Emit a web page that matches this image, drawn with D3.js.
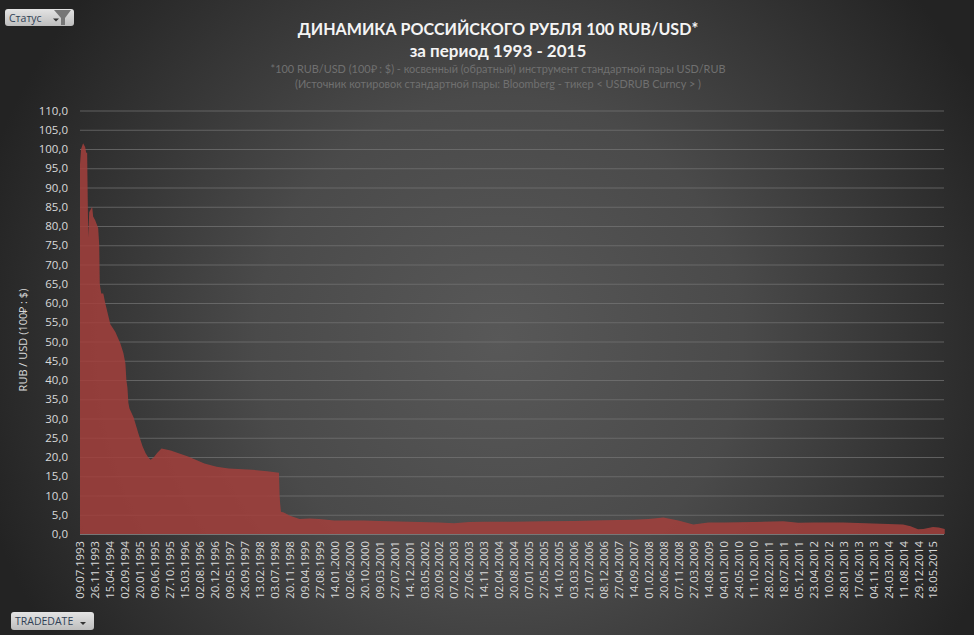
<!DOCTYPE html>
<html><head><meta charset="utf-8">
<script src="https://cdn.jsdelivr.net/npm/d3@7/dist/d3.min.js"></script>
<style>html,body{margin:0;padding:0;background:#222}svg{display:block}</style>
</head><body><svg id="c" width="974" height="635"></svg>
<script>
const tradeDates = ["09.07.1993","19.07.1993","07.08.1993","26.08.1993","05.09.1993","14.09.1993","18.09.1993","24.09.1993","03.10.1993","12.10.1993","31.10.1993","09.11.1993","28.11.1993","26.12.1993","05.01.1994","10.01.1994","15.01.1994","24.01.1994","12.02.1994","02.03.1994","19.04.1994","05.06.1994","22.07.1994","19.08.1994","07.09.1994","16.09.1994","26.09.1994","05.10.1994","15.10.1994","22.11.1994","08.01.1995","14.02.1995","15.03.1995","11.04.1995","30.04.1995","29.05.1995","05.07.1995","11.08.1995","05.11.1995","15.04.1996","01.07.1996","15.09.1996","08.01.1997","01.05.1997","06.12.1997","26.04.1998","14.08.1998","20.08.1998","25.08.1998","02.09.1998","29.09.1998","20.11.1998","22.02.1999","29.05.1999","27.08.1999","14.01.2000","20.10.2000","09.03.2001","14.12.2001","20.09.2002","07.02.2003","27.06.2003","14.11.2003","20.08.2004","27.05.2005","03.03.2006","08.12.2006","14.09.2007","01.02.2008","20.06.2008","07.11.2008","27.03.2009","14.08.2009","04.01.2010","11.10.2010","18.07.2011","05.12.2011","23.04.2012","28.01.2013","04.11.2013","24.03.2014","11.08.2014","20.10.2014","29.12.2014","16.02.2015","18.05.2015","10.07.2015","05.09.2015"];
const rubUsd = [96,100,101.5,100.5,99,99,90,77,83.6,84,85,82.5,81.5,79.5,75,65,64,62.5,62.5,60,54.5,52.5,49.5,47,44.3,40,38,34,32.6,30.3,26,22.8,21,19.8,19.3,19.9,21.2,22.2,21.7,20.1,19.2,18.3,17.5,17,16.7,16.3,15.9,10,7.9,5.8,5.6,4.8,3.9,4,3.9,3.5,3.5,3.4,3.2,3,2.8,3.1,3.2,3.2,3.3,3.4,3.6,3.7,3.9,4.3,3.5,2.5,3,3,3.1,3.3,2.9,3,3,2.7,2.6,2.5,2,1.25,1.3,1.8,1.7,1.3];
const tickDates = ["09.07.1993","26.11.1993","15.04.1994","02.09.1994","20.01.1995","09.06.1995","27.10.1995","15.03.1996","02.08.1996","20.12.1996","09.05.1997","26.09.1997","13.02.1998","03.07.1998","20.11.1998","09.04.1999","27.08.1999","14.01.2000","02.06.2000","20.10.2000","09.03.2001","27.07.2001","14.12.2001","03.05.2002","20.09.2002","07.02.2003","27.06.2003","14.11.2003","02.04.2004","20.08.2004","07.01.2005","27.05.2005","14.10.2005","03.03.2006","21.07.2006","08.12.2006","27.04.2007","14.09.2007","01.02.2008","20.06.2008","07.11.2008","27.03.2009","14.08.2009","04.01.2010","24.05.2010","11.10.2010","28.02.2011","18.07.2011","05.12.2011","23.04.2012","10.09.2012","28.01.2013","17.06.2013","04.11.2013","24.03.2014","11.08.2014","29.12.2014","18.05.2015"];
const yTicks = d3.range(0,111,5);
const titleLines = ["ДИНАМИКА РОССИЙСКОГО РУБЛЯ 100 RUB/USD*","за период 1993 - 2015"];
const subtitleLines = ["*100 RUB/USD (100₽ : $) - косвенный (обратный) инструмент стандартной пары USD/RUB","(Источник котировок стандартной пары: Bloomberg - тикер < USDRUB Curncy > )"];
const yTitle = "RUB / USD (100₽ : $)";

const parse = d3.timeParse("%d.%m.%Y"), fmt = d3.timeFormat("%d.%m.%Y");
const svg = d3.select("#c");
const defs = svg.append("defs");
const bg = defs.append("radialGradient").attr("id","bg").attr("gradientUnits","userSpaceOnUse")
  .attr("cx",500).attr("cy",340).attr("r",540);
bg.append("stop").attr("offset",0).attr("stop-color","#585858");
bg.append("stop").attr("offset",.45).attr("stop-color","#4a4a4a");
bg.append("stop").attr("offset",1).attr("stop-color","#232323");
const btn = defs.append("linearGradient").attr("id","btn").attr("x1",0).attr("y1",0).attr("x2",0).attr("y2",1);
btn.append("stop").attr("offset",0).attr("stop-color","#e4e4e4");
btn.append("stop").attr("offset",1).attr("stop-color","#bdbdbd");
svg.append("rect").attr("width",974).attr("height",635).attr("fill","url(#bg)");

const x = d3.scaleTime().domain([parse("09.07.1993"),parse("18.05.2015")]).range([80,933]);
const y = d3.scaleLinear().domain([0,110]).range([534,110.5]);

svg.append("g").selectAll("line").data(yTicks.filter(d=>d>0)).join("line")
  .attr("x1",80).attr("x2",944).attr("y1",d=>y(d)+.5).attr("y2",d=>y(d)+.5)
  .attr("stroke","#767676").attr("stroke-width",1).attr("opacity",.7);

const data = tradeDates.map((d,i)=>({d:parse(d),v:rubUsd[i]}));
svg.append("path").datum(data)
  .attr("d",d3.area().x(d=>x(d.d)).y0(y(0)).y1(d=>y(d.v)))
  .attr("fill","#a33f3c").attr("fill-opacity",.85);

const yAxis = svg.append("g").attr("transform","translate(80,0)")
  .call(d3.axisLeft(y).tickValues(yTicks).tickSize(0).tickPadding(12).tickFormat(d=>d3.format(".1f")(d).replace(".",",")));
yAxis.select(".domain").remove();
yAxis.selectAll("text").attr("fill","#d9d9d9").style("font","11.5px 'Open Sans'");

const xAxis = svg.append("g").attr("transform",`translate(0,${y(0)})`)
  .call(d3.axisBottom(x).tickValues(tickDates.map(parse)).tickSize(0).tickFormat(fmt));
xAxis.select(".domain").attr("stroke","#777").attr("d","M80,0.5H944");
xAxis.selectAll("text").attr("fill","#d9d9d9").style("font","11.3px 'Open Sans'")
  .attr("text-anchor","end").attr("transform","rotate(-90)").attr("x",-7).attr("y",0).attr("dy","0.35em");

svg.append("g").selectAll("text").data(titleLines).join("text")
  .attr("x",498).attr("y",(d,i)=>35+i*22).attr("text-anchor","middle").attr("fill","#f4f4f4")
  .style("font",(d,i)=>`bold ${i?17:16.1}px Lato`).text(d=>d);
svg.append("g").selectAll("text").data(subtitleLines).join("text")
  .attr("x",498).attr("y",(d,i)=>73+i*15).attr("text-anchor","middle").attr("fill","#707070")
  .style("font","10.9px Lato").text(d=>d);
svg.append("text").attr("transform","translate(27,340) rotate(-90)").attr("text-anchor","middle")
  .attr("fill","#d9d9d9").style("font","11px 'Open Sans'").text(yTitle);

function button(bx,by,w,h,label,arrowX){
  const g = svg.append("g").attr("transform",`translate(${bx},${by})`);
  g.append("rect").attr("width",w).attr("height",h).attr("rx",3).attr("fill","url(#btn)");
  g.append("text").attr("x",4).attr("y",h/2+4).attr("fill","#2f3f55").style("font","10.5px 'Open Sans'").text(label);
  g.append("path").attr("d",`M${arrowX},${h/2+1}h6l-3,3z`).attr("fill","#333");
  return g;
}
button(5,9,69,17,"Статус",48)
  .append("path").attr("d","M49,1H66L60,9V16H56V9Z").attr("fill","#777");
button(11,612,83,18,"TRADEDATE",69);
</script></body></html>
